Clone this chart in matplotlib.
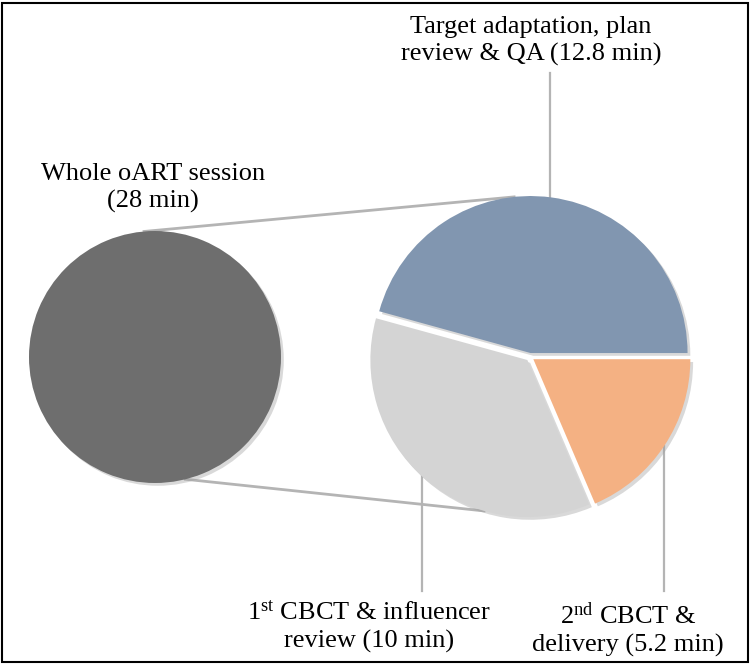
import numpy as np
import matplotlib
matplotlib.use("Agg")
import matplotlib.pyplot as plt
import matplotlib.patheffects as pe
from matplotlib.patches import Rectangle

plt.rcParams['font.family'] = ['Liberation Serif', 'DejaVu Serif']
plt.rcParams['mathtext.fontset'] = 'custom'
plt.rcParams['mathtext.rm'] = 'Liberation Serif'
plt.rcParams['mathtext.it'] = 'Liberation Serif:italic'

# ---- data ----
whole_label = "Whole oART session\n(28 min)"
whole_total = [28]
segment_labels = ["Target adaptation, plan\nreview & QA (12.8 min)",
                  "1$^{\\mathrm{st}}$ CBCT & influencer\nreview (10 min)",
                  "2$^{\\mathrm{nd}}$ CBCT &\ndelivery (5.2 min)"]
segment_values = [12.8, 10, 5.2]
segment_colors = ["#8196b0", "#d4d4d4", "#f4b183"]
whole_color = "#6e6e6e"

W, H = 750, 665
fig = plt.figure(figsize=(W / 100, H / 100), dpi=100)
ax = fig.add_axes([0, 0, 1, 1])

# geometry (pixel-like data units, y up)
big_c = (530, 308)
big_r = 157
small_c = (155, 308)
small_r = 126
expl = 4

shadow = [pe.SimplePatchShadow(offset=(2.0, -2.0), shadow_rgbFace='#a0a0a0', alpha=0.4), pe.Normal()]

ax.pie(whole_total, colors=[whole_color], center=small_c, radius=small_r,
       startangle=90, wedgeprops=dict(linewidth=0, path_effects=shadow))
wedges, _ = ax.pie(segment_values, colors=segment_colors, center=big_c, radius=big_r,
                   startangle=0, counterclock=True, explode=[expl] * 3,
                   wedgeprops=dict(linewidth=0, path_effects=shadow))

ax.set_xlim(0, W)
ax.set_ylim(0, H)
ax.set_aspect('equal')
ax.axis('off')

# connector lines between the two pies
def pt(c, r, ang):
    a = np.deg2rad(ang)
    return c[0] + r * np.cos(a), c[1] + r * np.sin(a)

p1 = pt(small_c, small_r, 95)
w0 = wedges[0]
p2 = pt(w0.center, big_r, 96)
p3 = pt(small_c, small_r, -76)
w1 = wedges[1]
p4 = pt(w1.center, big_r, -106)
line_col = '#b4b4b4'
ax.plot([p1[0], p2[0]], [p1[1], p2[1]], color=line_col, lw=2, zorder=0)
ax.plot([p3[0], p4[0]], [p3[1], p4[1]], color=line_col, lw=2, zorder=0)

# labels with vertical leader lines
fs = 19
label_pos = [(531, 624), (369, 38), (628, 35)]
leader_x = [550, 422, 664]
leader_y_text = [592, 74, 74]
for w, lab, (tx, ty), lx, ly in zip(wedges, segment_labels, label_pos, leader_x, leader_y_text):
    cx, cy = w.center
    dy = np.sqrt(max(big_r ** 2 - (lx - cx) ** 2, 0))
    if ty > cy:
        ey = cy + dy
    else:
        ey = cy - dy
    ax.plot([lx, lx], [ly, ey], color=line_col, lw=1.6, zorder=0)
    ax.text(tx, ty, lab, ha='center', va='center', fontsize=fs,
            linespacing=1.3, color='black')

ax.text(153, 477, whole_label, ha='center', va='center', fontsize=fs,
        linespacing=1.3, color='black')

fig.patches.append(Rectangle((0.003, 0.004), 0.994, 0.992, transform=fig.transFigure,
                             fill=False, edgecolor='black', linewidth=1.5))

fig.savefig("out.png", dpi=100)
